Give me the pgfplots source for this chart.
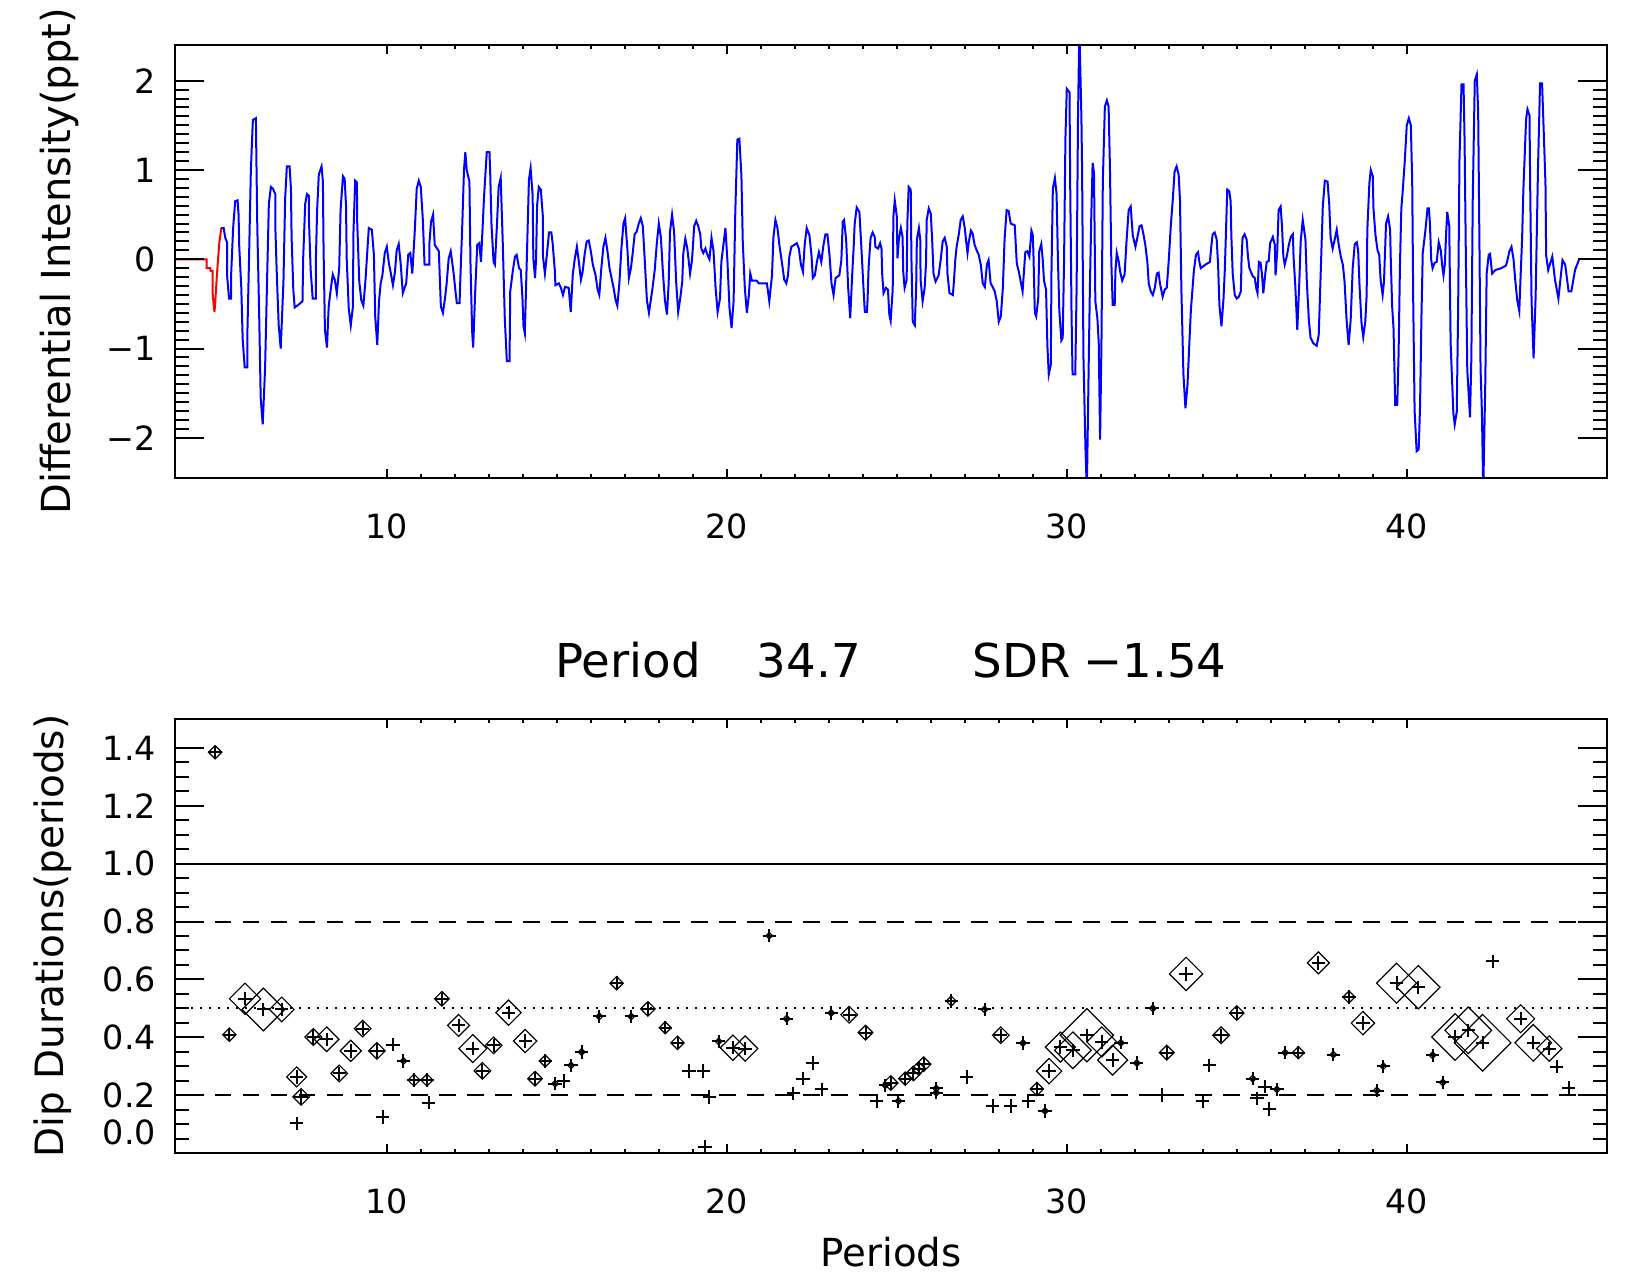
\documentclass[border=0pt]{standalone}
\usepackage{fontspec}
\setmainfont{DejaVu Sans}
\usepackage{pgfplots}
\pgfplotsset{compat=1.18}
\usepackage{pgfplotstable}
\pgfdeclareplotmark{dia}{%
  \pgfpathmoveto{\pgfqpoint{0pt}{\pgfplotmarksize}}%
  \pgfpathlineto{\pgfqpoint{\pgfplotmarksize}{0pt}}%
  \pgfpathlineto{\pgfqpoint{0pt}{-\pgfplotmarksize}}%
  \pgfpathlineto{\pgfqpoint{-\pgfplotmarksize}{0pt}}%
  \pgfpathclose\pgfusepathqstroke}

\pgfplotstableread{
x y
3.70 0.00
4.70 0.00
4.70 -0.10
4.80 -0.10
4.82 -0.13
4.88 -0.13
4.88 -0.40
4.93 -0.59
4.95 -0.51
5.00 -0.19
5.07 0.17
5.13 0.35
}\redline

\pgfplotstableread{
x y
5.13 0.35
5.20 0.35
5.25 0.24
5.30 0.19
5.30 -0.17
5.36 -0.44
5.42 -0.44
5.42 -0.18
5.48 0.35
5.54 0.65
5.61 0.66
5.64 0.50
5.66 0.14
5.72 -0.32
5.76 -0.89
5.82 -1.21
5.90 -1.21
5.90 -0.81
5.95 0.05
6.00 0.98
6.06 1.56
6.15 1.58
6.16 1.24
6.19 0.38
6.25 -0.70
6.29 -1.55
6.35 -1.85
6.42 -1.22
6.48 -0.21
6.53 0.62
6.59 0.81
6.65 0.79
6.72 0.73
6.72 0.38
6.76 -0.12
6.82 -0.74
6.88 -1.00
6.96 -0.25
7.01 0.68
7.06 1.04
7.14 1.04
7.18 0.79
7.20 0.24
7.25 -0.34
7.29 -0.54
7.40 -0.51
7.52 -0.47
7.54 0.01
7.60 0.62
7.65 0.73
7.71 0.71
7.71 0.44
7.76 -0.12
7.82 -0.44
7.91 -0.44
7.91 -0.06
7.95 0.55
8.00 0.95
8.08 1.04
8.12 0.87
8.14 0.10
8.18 -0.79
8.24 -0.99
8.29 -0.53
8.35 -0.34
8.41 -0.17
8.47 -0.23
8.53 -0.38
8.60 -0.10
8.64 0.55
8.71 0.93
8.76 0.90
8.80 0.60
8.82 0.01
8.88 -0.55
8.94 -0.74
9.00 -0.54
9.02 0.31
9.07 0.88
9.12 0.86
9.13 0.41
9.19 -0.25
9.25 -0.46
9.31 -0.52
9.37 -0.25
9.42 0.05
9.47 0.35
9.56 0.33
9.62 0.05
9.66 -0.65
9.72 -0.96
9.77 -0.47
9.82 -0.27
9.87 -0.18
9.94 0.07
10.00 0.14
10.06 -0.04
10.12 -0.16
10.18 -0.29
10.24 -0.14
10.29 0.10
10.35 0.17
10.41 -0.06
10.47 -0.38
10.57 -0.27
10.63 0.05
10.69 0.07
10.75 -0.16
10.82 0.30
10.88 0.79
10.94 0.88
11.00 0.81
11.06 0.44
11.11 -0.06
11.25 -0.06
11.25 0.16
11.30 0.42
11.36 0.50
11.41 0.16
11.53 0.09
11.59 -0.53
11.65 -0.60
11.71 -0.44
11.76 -0.27
11.82 0.01
11.88 0.09
11.96 -0.14
12.02 -0.36
12.06 -0.49
12.14 -0.49
12.16 -0.25
12.22 0.39
12.27 1.00
12.31 1.20
12.35 1.00
12.43 0.87
12.46 -0.03
12.51 -0.81
12.54 -0.99
12.60 -0.36
12.66 0.16
12.72 0.18
12.77 -0.03
12.86 0.70
12.94 1.20
13.02 1.20
13.04 0.98
13.08 0.38
13.14 -0.03
13.18 -0.06
13.24 0.39
13.29 0.81
13.35 0.91
13.41 0.19
13.47 -0.66
13.53 -1.14
13.61 -1.14
13.63 -0.36
13.71 -0.12
13.77 0.03
13.82 0.05
13.89 -0.10
13.94 -0.12
13.99 -0.44
14.02 -0.75
14.06 -0.83
14.12 0.03
14.18 0.89
14.23 1.02
14.29 0.71
14.31 0.01
14.36 -0.21
14.39 0.00
14.42 0.60
14.47 0.81
14.53 0.78
14.59 0.48
14.59 0.04
14.65 -0.16
14.71 0.06
14.77 0.30
14.84 0.30
14.88 0.17
14.94 -0.12
14.96 -0.29
15.06 -0.27
15.12 -0.32
15.18 -0.40
15.24 -0.31
15.35 -0.32
15.41 -0.59
15.47 -0.17
15.53 0.01
15.59 0.14
15.65 -0.03
15.71 -0.23
15.76 -0.14
15.82 0.06
15.88 0.20
15.94 0.21
16.00 0.09
16.06 -0.06
16.14 -0.18
16.20 -0.34
16.25 -0.40
16.31 -0.10
16.37 0.14
16.43 0.24
16.49 0.09
16.55 -0.10
16.61 -0.21
16.67 -0.32
16.73 -0.46
16.78 -0.52
16.84 -0.27
16.90 0.12
16.96 0.40
17.01 0.46
17.08 0.09
17.12 -0.21
17.18 -0.10
17.23 0.06
17.29 0.28
17.35 0.31
17.41 0.40
17.47 0.46
17.53 0.37
17.59 -0.03
17.65 -0.46
17.71 -0.60
17.76 -0.47
17.82 -0.31
17.88 -0.12
17.94 0.17
18.00 0.40
18.06 0.25
18.12 -0.14
18.18 -0.46
18.24 -0.62
18.29 -0.27
18.33 0.31
18.39 0.50
18.45 0.31
18.51 -0.25
18.57 -0.59
18.63 -0.44
18.69 -0.25
18.72 0.06
18.78 0.23
18.84 0.12
18.92 -0.16
18.97 -0.03
19.00 0.12
19.04 0.37
19.10 0.43
19.16 0.37
19.22 0.28
19.25 0.12
19.31 0.07
19.37 0.12
19.43 0.05
19.49 0.00
19.55 0.24
19.61 0.09
19.67 -0.32
19.73 -0.59
19.80 -0.44
19.84 -0.03
19.90 0.16
19.96 0.35
20.02 -0.03
20.08 -0.55
20.14 -0.77
20.20 -0.47
20.25 0.53
20.31 1.34
20.37 1.35
20.43 0.94
20.47 0.19
20.53 -0.32
20.59 -0.60
20.65 -0.40
20.69 -0.16
20.74 -0.24
20.88 -0.24
20.94 -0.27
21.18 -0.27
21.25 -0.47
21.33 -0.18
21.37 0.24
21.43 0.44
21.49 0.35
21.55 0.15
21.63 -0.06
21.69 -0.23
21.75 -0.27
21.80 -0.18
21.84 0.03
21.90 0.14
22.06 0.18
22.12 0.12
22.18 -0.06
22.24 -0.14
22.29 0.16
22.35 0.35
22.43 0.27
22.49 0.05
22.53 -0.21
22.59 -0.18
22.65 -0.03
22.71 0.08
22.78 -0.03
22.84 0.15
22.90 0.28
22.96 0.28
23.02 0.05
23.08 -0.27
23.14 -0.40
23.20 -0.21
23.31 -0.18
23.37 -0.01
23.41 0.42
23.45 0.44
23.51 0.22
23.57 -0.32
23.63 -0.66
23.69 -0.16
23.73 0.12
23.76 0.39
23.82 0.58
23.90 0.53
23.96 0.12
24.02 -0.32
24.06 -0.59
24.12 -0.59
24.14 -0.46
24.17 -0.10
24.23 0.24
24.29 0.30
24.35 0.25
24.37 0.14
24.45 0.12
24.51 0.18
24.55 0.12
24.57 -0.16
24.61 -0.38
24.68 -0.32
24.74 -0.34
24.78 -0.62
24.82 -0.69
24.88 -0.34
24.90 0.48
24.94 0.66
25.00 0.48
25.02 0.01
25.06 0.22
25.12 0.35
25.17 0.25
25.19 -0.14
25.23 -0.32
25.29 -0.23
25.31 0.40
25.35 0.81
25.41 0.78
25.43 0.02
25.47 -0.70
25.53 -0.74
25.57 -0.32
25.59 0.22
25.65 0.35
25.69 0.22
25.70 -0.23
25.76 -0.47
25.82 -0.32
25.86 -0.04
25.88 0.44
25.94 0.57
26.00 0.51
26.04 0.22
26.08 -0.16
26.14 -0.25
26.23 -0.18
26.29 -0.01
26.35 0.20
26.41 0.24
26.47 0.14
26.49 -0.16
26.55 -0.38
26.65 -0.40
26.68 -0.25
26.72 -0.01
26.76 0.14
26.82 0.27
26.88 0.44
26.94 0.48
27.00 0.35
27.04 0.20
27.08 0.07
27.12 0.20
27.18 0.32
27.23 0.29
27.29 0.16
27.35 0.10
27.41 0.05
27.47 -0.06
27.53 -0.27
27.59 -0.31
27.65 -0.06
27.70 -0.01
27.76 -0.27
27.82 -0.31
27.88 -0.36
27.94 -0.47
28.00 -0.70
28.06 -0.64
28.12 -0.32
28.17 0.22
28.23 0.55
28.29 0.54
28.35 0.40
28.47 0.38
28.53 -0.05
28.59 -0.14
28.70 -0.36
28.74 -0.14
28.78 0.08
28.84 0.09
28.90 0.03
28.96 0.32
29.00 0.27
29.02 0.05
29.06 -0.60
29.10 -0.64
29.16 -0.44
29.19 0.09
29.25 0.17
29.29 0.01
29.33 -0.24
29.39 -0.34
29.43 -0.97
29.47 -1.29
29.53 -1.18
29.55 -0.14
29.59 0.79
29.65 0.91
29.70 0.73
29.74 -0.01
29.78 -0.57
29.84 -0.91
29.88 -0.88
29.92 -0.02
29.96 1.35
30.00 1.91
30.08 1.87
30.10 0.85
30.14 -0.62
30.17 -1.29
30.25 -1.29
30.29 -0.29
30.33 1.59
30.37 2.60
30.43 1.59
30.45 1.02
30.49 -1.09
30.55 -2.13
30.59 -2.60
30.65 -1.05
30.68 -0.31
30.72 0.47
30.76 1.08
30.80 0.97
30.84 -0.47
30.90 -0.66
30.94 -0.94
30.98 -2.02
31.02 -0.94
31.06 0.87
31.12 1.71
31.18 1.78
31.23 1.71
31.27 1.02
31.31 -0.03
31.35 -0.51
31.41 -0.51
31.43 -0.14
31.47 0.07
31.53 -0.03
31.57 -0.14
31.63 -0.24
31.70 -0.17
31.76 0.22
31.82 0.55
31.88 0.59
31.94 0.27
32.02 0.14
32.08 0.25
32.14 0.37
32.20 0.38
32.25 0.29
32.31 0.16
32.37 -0.03
32.41 -0.27
32.47 -0.36
32.53 -0.40
32.59 -0.32
32.65 -0.16
32.70 -0.15
32.74 -0.27
32.82 -0.42
32.88 -0.34
32.94 -0.32
33.00 -0.01
33.06 0.38
33.12 0.68
33.17 0.98
33.23 1.04
33.29 0.95
33.33 0.66
33.37 -0.32
33.43 -1.28
33.49 -1.67
33.55 -1.41
33.61 -0.90
33.65 -0.57
33.68 -0.42
33.74 -0.12
33.80 0.05
33.86 0.08
33.90 -0.03
33.94 -0.10
34.08 -0.06
34.21 -0.03
34.25 0.14
34.29 0.28
34.35 0.30
34.41 0.22
34.45 -0.06
34.49 -0.52
34.55 -0.75
34.61 -0.44
34.65 -0.10
34.68 0.28
34.72 0.78
34.78 0.76
34.82 0.65
34.84 0.27
34.88 -0.16
34.94 -0.40
35.00 -0.44
35.06 -0.42
35.12 -0.36
35.14 -0.01
35.17 0.24
35.23 0.28
35.29 0.22
35.33 0.03
35.37 -0.10
35.47 -0.19
35.53 -0.21
35.57 -0.32
35.61 -0.38
35.65 -0.03
35.70 -0.04
35.74 -0.16
35.78 -0.38
35.84 -0.16
35.88 -0.03
35.94 -0.02
35.98 0.18
36.06 0.25
36.12 0.16
36.14 -0.18
36.19 0.09
36.23 0.55
36.29 0.59
36.33 0.37
36.37 0.03
36.41 -0.06
36.47 0.03
36.53 0.16
36.59 0.25
36.65 0.28
36.67 0.03
36.72 -0.29
36.78 -0.79
36.84 -0.25
36.88 0.20
36.94 0.44
37.02 0.22
37.06 -0.25
37.12 -0.68
37.17 -0.88
37.25 -0.94
37.35 -0.97
37.41 -0.85
37.47 -0.14
37.53 0.59
37.59 0.88
37.67 0.87
37.72 0.61
37.76 0.24
37.82 0.12
37.88 0.22
37.94 0.33
38.00 0.16
38.06 0.03
38.12 -0.06
38.17 -0.25
38.23 -0.68
38.29 -0.96
38.35 -0.68
38.41 -0.10
38.47 0.17
38.53 0.19
38.57 0.10
38.61 -0.29
38.67 -0.72
38.72 -0.87
38.78 -0.70
38.82 -0.40
38.84 0.33
38.90 0.85
38.94 1.00
39.00 0.93
39.02 0.57
39.08 0.27
39.14 0.10
39.19 0.05
39.23 -0.23
39.29 -0.40
39.33 -0.25
39.39 0.40
39.45 0.48
39.51 0.33
39.53 -0.01
39.57 -0.53
39.61 -0.77
39.66 -1.63
39.72 -1.63
39.76 -1.05
39.80 -0.06
39.84 0.57
39.88 0.76
39.94 1.09
40.00 1.50
40.06 1.58
40.12 1.50
40.16 0.87
40.19 -0.47
40.23 -1.69
40.29 -2.15
40.35 -2.13
40.39 -1.66
40.43 -0.68
40.47 0.07
40.55 0.33
40.61 0.57
40.65 0.57
40.68 0.41
40.72 -0.01
40.76 -0.10
40.82 -0.04
40.88 -0.03
40.94 0.19
41.00 0.10
41.04 -0.06
41.08 -0.18
41.12 -0.06
41.16 0.31
41.19 0.53
41.25 0.37
41.29 -0.94
41.37 -1.72
41.41 -1.85
41.47 -1.71
41.51 -0.59
41.55 1.11
41.61 1.96
41.67 1.96
41.70 1.34
41.74 -0.04
41.78 -1.24
41.86 -1.77
41.90 -1.10
41.94 0.66
42.00 2.00
42.06 2.07
42.10 1.65
42.14 0.07
42.17 -1.22
42.21 -1.71
42.25 -2.60
42.31 -1.37
42.35 -0.16
42.41 0.05
42.45 0.06
42.51 -0.16
42.61 -0.12
42.78 -0.10
42.92 -0.07
42.96 -0.01
43.02 0.09
43.08 0.14
43.14 0.00
43.19 -0.23
43.25 -0.46
43.31 -0.58
43.35 -0.17
43.39 0.20
43.43 0.78
43.51 1.57
43.55 1.68
43.61 1.61
43.63 0.82
43.67 -0.46
43.73 -1.11
43.79 -0.42
43.86 1.02
43.92 1.97
43.98 1.97
44.04 1.30
44.08 0.84
44.10 0.04
44.16 -0.12
44.28 0.03
44.36 -0.23
44.46 -0.44
44.58 -0.01
44.66 -0.06
44.76 -0.36
44.84 -0.36
44.95 -0.12
45.07 0.00
45.09 0.00
}\blueline

\pgfplotstableread{
x y s
4.95 1.385 2.0
5.37 0.409 2.0
5.83 0.533 4.7
6.37 0.496 6.4
6.91 0.496 3.7
7.35 0.263 3.0
7.48 0.194 2.5
7.35 0.102 0
7.84 0.401 2.5
8.23 0.393 3.7
8.60 0.275 2.5
8.94 0.353 3.2
9.29 0.430 2.5
9.71 0.353 2.5
9.88 0.125 0
10.18 0.374 0
10.49 0.318 1.0
10.80 0.252 1.8
11.18 0.252 1.8
11.23 0.174 0
11.62 0.533 2.2
12.11 0.441 3.3
12.53 0.361 4.2
12.81 0.284 2.5
13.14 0.372 2.5
13.58 0.485 3.8
14.07 0.387 3.5
14.36 0.257 2.2
14.66 0.318 1.8
14.95 0.240 1.0
15.20 0.249 0
15.42 0.303 1.0
15.73 0.349 1.0
16.25 0.472 1.0
16.76 0.587 2.0
17.19 0.472 1.0
17.68 0.498 2.2
18.19 0.433 1.8
18.55 0.381 2.0
18.89 0.284 0
19.31 0.284 0
19.36 0.022 0
19.49 0.194 0
19.76 0.386 1.0
20.18 0.364 3.8
20.54 0.361 3.8
21.25 0.751 1.0
21.76 0.464 1.0
21.96 0.206 0
22.24 0.257 0
22.53 0.311 0
22.79 0.220 0
23.07 0.484 1.0
23.60 0.478 2.5
24.08 0.416 2.2
24.41 0.180 0
24.66 0.234 1.0
24.82 0.242 2.2
25.05 0.180 1.0
25.25 0.257 2.0
25.49 0.275 2.2
25.64 0.292 2.0
25.79 0.307 2.2
26.16 0.223 1.0
26.16 0.208 1.0
26.60 0.525 1.5
27.06 0.263 0
27.58 0.496 1.0
27.82 0.163 0
28.06 0.407 2.5
28.35 0.163 0
28.71 0.380 1.0
28.87 0.180 0
29.12 0.221 2.0
29.36 0.145 1.0
29.48 0.283 3.8
29.81 0.366 4.5
30.18 0.355 5.5
30.59 0.407 8.0
31.03 0.384 4.5
31.35 0.321 4.5
31.59 0.381 1.0
32.06 0.311 1.0
32.53 0.500 1.0
32.81 0.200 0
32.94 0.347 2.2
33.51 0.619 5.0
34.00 0.180 0
34.19 0.303 0
34.54 0.407 2.5
35.00 0.484 2.2
35.47 0.257 1.0
35.59 0.189 0
35.83 0.229 0
35.96 0.152 0
36.18 0.220 1.0
36.42 0.347 1.0
36.81 0.347 1.8
37.40 0.657 3.3
37.84 0.340 1.0
38.30 0.539 1.8
38.71 0.449 3.5
39.12 0.216 1.0
39.31 0.300 1.0
39.70 0.587 6.0
40.34 0.573 6.5
40.76 0.338 1.0
41.06 0.244 1.0
41.42 0.401 7.0
41.81 0.424 7.0
42.23 0.381 8.5
42.53 0.663 0
43.35 0.464 4.2
43.72 0.381 5.5
44.19 0.361 3.8
44.41 0.298 0
44.76 0.225 0
}\durs

\begin{document}
\begin{tikzpicture}
\useasboundingbox (0,0) rectangle (492pt,385.8pt);
\pgfplotsset{
  common/.style={
    scale only axis, width=429.6pt,
    xmin=3.77, xmax=45.89,
    axis line style={line width=0.8pt, black},
    tick align=inside,
    every tick/.style={line width=0.6pt, black},
    tick label style={font=\fontsize{10}{12}\selectfont},
    xticklabel style={anchor=north, inner sep=0pt, yshift=-10.5pt},
    yticklabel style={anchor=east, inner sep=0pt, xshift=-5.5pt},
    label style={inner sep=0pt},
  },
  xpart/.style={common,
    xtick={10,20,30,40}, xticklabels={10,20,30,40},
    minor x tick num=9, ytick=\empty,
    major tick length=2.6pt, minor tick length=1.3pt,
  },
  ypart/.style={common,
    xtick=\empty,
    major tick length=8.6pt, minor tick length=4.3pt,
  },
}
% ---------- top panel ----------
\begin{axis}[xpart,
  at={(52.5pt,242.4pt)}, anchor=south west, height=129.9pt,
  ymin=-2.45, ymax=2.40,
]
\addplot[red, line width=0.6pt] table[x=x,y=y] {\redline};
\addplot[blue, line width=0.6pt] table[x=x,y=y] {\blueline};
\end{axis}
\begin{axis}[ypart,
  at={(52.5pt,242.4pt)}, anchor=south west, height=129.9pt,
  ymin=-2.45, ymax=2.40,
  ytick={-2,-1,0,1,2}, yticklabels={−2,−1,0,1,2},
  minor y tick num=9,
  ylabel={Differential Intensity(ppt)},
  ylabel style={at={(axis description cs:-0.0733,0.5)}, anchor=base, font=\fontsize{12}{14}\selectfont},
]
\end{axis}
% ---------- bottom panel ----------
\begin{axis}[xpart,
  at={(52.5pt,39.9pt)}, anchor=south west, height=130.2pt,
  ymin=0, ymax=1.5,
  xlabel={Periods},
  xlabel style={at={(axis description cs:0.5,-0.2615)}, anchor=base, font=\fontsize{11.6}{13}\selectfont},
  title={Period\hspace{16.8pt}34.7\hspace{33.6pt}SDR\hspace{3.9pt}−1.54},
  title style={at={(axis description cs:0.5,1.0484)}, anchor=base, inner sep=0pt, font=\fontsize{14}{16}\selectfont},
]
\addplot[black, line width=0.6pt] coordinates {(0,1) (50,1)};
\addplot[black, line width=0.6pt, dash pattern=on 5pt off 3.4pt] coordinates {(0,0.8) (50,0.8)};
\addplot[black, line width=0.6pt, dash pattern=on 5pt off 3.4pt] coordinates {(0,0.2) (50,0.2)};
\addplot[black, line width=0.6pt, dash pattern=on 0.6pt off 2.1pt] coordinates {(0,0.5) (50,0.5)};
\addplot[only marks, mark=+, mark size=2pt, mark options={line width=0.6pt, black, solid}] table[x=x,y=y] {\durs};
\addplot[scatter, only marks, mark=dia,
  scatter/use mapped color={draw=black},
  mark options={line width=0.35pt, solid},
  visualization depends on={\thisrow{s} \as \ms},
  scatter/@pre marker code/.append style={/tikz/mark size=\ms pt},
  restrict expr to domain={\thisrow{s}}{0.5:50},
] table[x=x,y=y] {\durs};
\end{axis}
\begin{axis}[ypart,
  at={(52.5pt,39.9pt)}, anchor=south west, height=130.2pt,
  ymin=0, ymax=1.5,
  ytick={0,0.2,0.4,0.6,0.8,1.0,1.2,1.4},
  yticklabels={\raisebox{6.3pt}[\height][\depth]{0.0},0.2,0.4,0.6,0.8,1.0,1.2,1.4},
  minor y tick num=3,
  ylabel={Dip Durations(periods)},
  ylabel style={at={(axis description cs:-0.0782,0.5)}, anchor=base, font=\fontsize{11.7}{14}\selectfont},
]
\end{axis}
\end{tikzpicture}
\end{document}
